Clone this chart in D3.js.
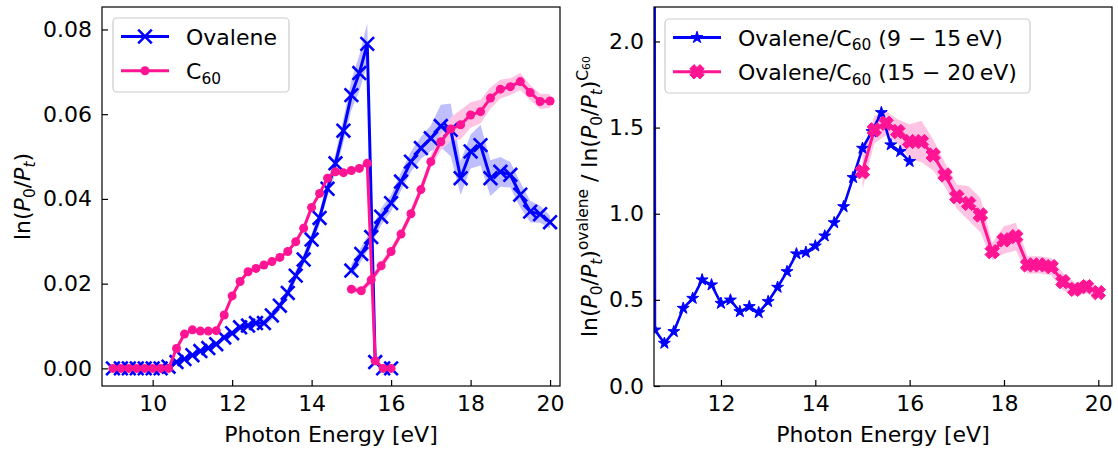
<!DOCTYPE html>
<html>
<head>
<meta charset="utf-8">
<script src="https://cdn.jsdelivr.net/npm/d3@7"></script>
<style>
body { margin: 0; background: #fff; }
text { font-family: "DejaVu Sans", sans-serif; white-space: pre; }
</style>
</head>
<body>
<svg id="fig" width="1118" height="450"></svg>
<script>
var fs = 22;
var blue = '#0000ff', pink = '#ff1493';
var blueBand = '#bfbfff', pinkBand = '#ffc4e4';

// left panel, low energy scan (9 - 16 eV)
var energyLow = [9.0, 9.2, 9.4, 9.6, 9.8, 10.0, 10.2, 10.4, 10.6, 10.8, 11.0, 11.2, 11.4, 11.6, 11.8, 12.0,
	12.2, 12.4, 12.6, 12.8, 13.0, 13.2, 13.4, 13.6, 13.8, 14.0, 14.2, 14.4, 14.6, 14.8, 15.0, 15.2, 15.4, 15.6, 15.8, 16.0];
var ovaleneLow = [0, 0, 0, 0, 0, 0, 0, 0.0004, 0.0015, 0.0022, 0.0031, 0.0041, 0.0048, 0.0057, 0.0073, 0.0083,
	0.0097, 0.0101, 0.0107, 0.0107, 0.0125, 0.0148, 0.0178, 0.0219, 0.0257, 0.0304, 0.0355, 0.0424, 0.0484, 0.0561, 0.0645, 0.0697, 0.0766, 0.0015, 0, 0];
var ovaleneLowErr = [0.0003, 0.0003, 0.0003, 0.0003, 0.0003, 0.0003, 0.0003, 0.0003, 0.0004, 0.0004, 0.0005, 0.0005, 0.0006, 0.0006, 0.0007, 0.0007,
	0.0008, 0.0008, 0.0009, 0.0009, 0.001, 0.001, 0.0011, 0.0012, 0.0013, 0.0014, 0.0016, 0.0018, 0.0022, 0.0028, 0.0035, 0.0042, 0.0048, 0.0003, 0.0003, 0.0003];
var c60Low = [0, 0, 0, 0, 0, 0, 0, 0, 0.0047, 0.0081, 0.0091, 0.0088, 0.0088, 0.0089, 0.0126, 0.0171,
	0.0205, 0.0228, 0.0236, 0.0244, 0.0252, 0.0262, 0.0276, 0.0299, 0.0331, 0.038, 0.0413, 0.0449, 0.0464, 0.0462, 0.0467, 0.0472, 0.0484, 0.0018, 0, 0];
var c60LowErr = [0.0003, 0.0003, 0.0003, 0.0003, 0.0003, 0.0003, 0.0003, 0.0003, 0.0003, 0.0003, 0.0003, 0.0003, 0.0003, 0.0003, 0.0003, 0.0003,
	0.0003, 0.0003, 0.0003, 0.0003, 0.0003, 0.0003, 0.0004, 0.0004, 0.0004, 0.0005, 0.0005, 0.0005, 0.0005, 0.0005, 0.0005, 0.0005, 0.0005, 0.0003, 0.0003, 0.0003];

// left panel, high energy scan (15 - 20 eV)
var energyHigh = [15.0, 15.25, 15.5, 15.75, 16.0, 16.25, 16.5, 16.75, 17.0, 17.25, 17.5, 17.75, 18.0, 18.25, 18.5, 18.75, 19.0, 19.25, 19.5, 19.75, 20.0];
var ovaleneHigh = [0.0231, 0.027, 0.031, 0.0358, 0.039, 0.0441, 0.0488, 0.052, 0.0543, 0.0572, 0.0563, 0.0449, 0.0512, 0.0527, 0.0449, 0.0464, 0.0457, 0.041, 0.037, 0.0364, 0.0345];
var ovaleneHighErr = [0.0015, 0.0017, 0.0018, 0.002, 0.002, 0.0022, 0.0024, 0.0026, 0.003, 0.005, 0.0062, 0.004, 0.004, 0.0048, 0.0042, 0.0035, 0.003, 0.003, 0.0025, 0.002, 0.0015];
var c60High = [0.0187, 0.0183, 0.0209, 0.0242, 0.0276, 0.0317, 0.0365, 0.0422, 0.0488, 0.0535, 0.0565, 0.0575, 0.0598, 0.0606, 0.0638, 0.0659, 0.0665, 0.0677, 0.0651, 0.063, 0.0631];
var c60HighErr = [0.0008, 0.0008, 0.0009, 0.001, 0.001, 0.001, 0.0011, 0.0012, 0.0015, 0.002, 0.0028, 0.0035, 0.003, 0.0028, 0.0025, 0.0022, 0.002, 0.002, 0.0018, 0.0018, 0.0016];

// right panel, ratios
var energyRatioLow = [10.4, 10.6, 10.8, 11.0, 11.2, 11.4, 11.6, 11.8, 12.0, 12.2, 12.4, 12.6, 12.8, 13.0, 13.2,
	13.4, 13.6, 13.8, 14.0, 14.2, 14.4, 14.6, 14.8, 15.0, 15.2, 15.4, 15.6, 15.8, 16.0];
var ratioLow = [60, 0.325, 0.248, 0.316, 0.451, 0.509, 0.616, 0.587, 0.48, 0.499, 0.432, 0.461, 0.426, 0.49, 0.573,
	0.664, 0.767, 0.776, 0.813, 0.871, 0.948, 1.041, 1.21, 1.38, 1.477, 1.587, 1.4, 1.361, 1.303];
var ratioHigh = [1.244, 1.487, 1.525, 1.477, 1.419, 1.419, 1.341, 1.225, 1.099, 1.06, 0.993, 0.78, 0.848, 0.867, 0.703, 0.703, 0.693, 0.606, 0.561, 0.577, 0.542];
var ratioHighErr = [0.1, 0.08, 0.07, 0.07, 0.1, 0.12, 0.09, 0.07, 0.07, 0.1, 0.1, 0.05, 0.08, 0.08, 0.05, 0.05, 0.05, 0.05, 0.04, 0.04, 0.03];

var xTicksLeft = [10, 12, 14, 16, 18, 20];
var yTicksLeft = [0, 0.02, 0.04, 0.06, 0.08];
var xTicksRight = [12, 14, 16, 18, 20];
var yTicksRight = [0, 0.5, 1.0, 1.5, 2.0];

var svg = d3.select('#fig');

var L = {left: 102, right: 560, top: 7, bottom: 386};
var R = {left: 654, right: 1112, top: 7, bottom: 386};

var xL = d3.scaleLinear().domain([8.725, 20.25]).range([L.left, L.right]);
var yL = d3.scaleLinear().domain([-0.00416, 0.0853]).range([L.bottom, L.top]);
var xR = d3.scaleLinear().domain([10.58, 20.29]).range([R.left, R.right]);
var yR = d3.scaleLinear().domain([0, 2.2]).range([R.bottom, R.top]);

function zip(xs, ys, es) {
	return xs.map((x, i) => ({x: x, y: ys[i], e: es ? es[i] : 0}));
}

// markers
function xMarker(s) { return 'M' + (-s) + ',' + (-s) + 'L' + s + ',' + s + 'M' + (-s) + ',' + s + 'L' + s + ',' + (-s); }
function xFilled(a, w) {
	var p = [[w, a], [w, w], [a, w], [a, -w], [w, -w], [w, -a], [-w, -a], [-w, -w], [-a, -w], [-a, w], [-w, w], [-w, a]];
	var c = Math.SQRT1_2;
	return 'M' + p.map(q => [(q[0] - q[1]) * c, (q[0] + q[1]) * c].join(',')).join('L') + 'Z';
}
var starPath = d3.symbol(d3.symbolStar, 44)();

function drawMarker(g, kind, color) {
	if (kind == 'x') {
		g.append('path').attr('d', xMarker(6.8)).attr('stroke', color).attr('stroke-width', 2.6).attr('fill', 'none');
	} else if (kind == 'o') {
		g.append('circle').attr('r', 4.5).attr('fill', color);
	} else if (kind == 'star') {
		g.append('path').attr('d', starPath).attr('fill', color).attr('stroke', color).attr('stroke-width', 1);
	} else if (kind == 'X') {
		g.append('path').attr('d', xFilled(7.2, 3)).attr('fill', color).attr('stroke', color).attr('stroke-width', 1);
	}
}

// math-like text: parts with shift (in em, positive down) and scale
function mtext(parent, parts, size) {
	var t = parent.append('text').attr('font-size', size).attr('fill', 'black');
	var cur = 0;
	parts.forEach(p => {
		var shift = (p.shift || 0) * size;
		var ts = t.append('tspan')
			.attr('font-size', size * (p.scale || 1))
			.attr('dy', shift - cur)
			.text(p.t);
		if (p.it) ts.attr('font-style', 'italic');
		cur = shift;
	});
	return t;
}
var SUB = {shift: 0.22, scale: 0.7}, SUP = {shift: -0.42, scale: 0.7}, SUPSUB = {shift: -0.3, scale: 0.5};
function part(t, o, it) { return Object.assign({t: t, it: it}, o || {}); }

function panel(P, x, y, id) {
	var g = svg.append('g');
	g.append('clipPath').attr('id', id)
		.append('rect').attr('x', P.left).attr('y', P.top)
		.attr('width', P.right - P.left).attr('height', P.bottom - P.top);
	var plot = g.append('g').attr('clip-path', 'url(#' + id + ')');
	return {g: g, plot: plot, x: x, y: y, P: P};
}

function band(p, data, color) {
	var area = d3.area().x(d => p.x(d.x)).y0(d => p.y(d.y - d.e)).y1(d => p.y(d.y + d.e));
	p.plot.append('path').attr('d', area(data)).attr('fill', color).attr('stroke', 'none');
}

function series(p, data, color, kind, lw) {
	var line = d3.line().x(d => p.x(d.x)).y(d => p.y(d.y));
	p.plot.append('path').attr('d', line(data)).attr('fill', 'none')
		.attr('stroke', color).attr('stroke-width', lw || 3).attr('stroke-linejoin', 'round');
	p.plot.append('g').selectAll('g').data(data).join('g')
		.attr('transform', d => 'translate(' + p.x(d.x) + ',' + p.y(d.y) + ')')
		.each(function () { drawMarker(d3.select(this), kind, color); });
}

function axes(p, xt, yt, yfmt) {
	var P = p.P;
	var gx = p.g.append('g').attr('transform', 'translate(0,' + P.bottom + ')')
		.call(d3.axisBottom(p.x).tickValues(xt).tickSize(-6).tickPadding(9).tickFormat(d3.format('d')));
	var gy = p.g.append('g').attr('transform', 'translate(' + P.left + ',0)')
		.call(d3.axisLeft(p.y).tickValues(yt).tickSize(-6).tickPadding(10).tickFormat(d3.format(yfmt)));
	[gx, gy].forEach(a => {
		a.select('.domain').remove();
		a.attr('font-size', null).attr('font-family', null);
		a.selectAll('.tick line').attr('stroke', 'black').attr('stroke-width', 1.2);
		a.selectAll('.tick text').attr('font-size', fs).attr('fill', 'black');
	});
	p.g.append('rect').attr('x', P.left).attr('y', P.top)
		.attr('width', P.right - P.left).attr('height', P.bottom - P.top)
		.attr('fill', 'none').attr('stroke', 'black').attr('stroke-width', 1.2);
	p.g.append('text').attr('x', (P.left + P.right) / 2).attr('y', 442)
		.attr('text-anchor', 'middle').attr('font-size', fs).text('Photon Energy [eV]');
}

function legend(p, x0, y0, w, h, entries) {
	var g = p.g.append('g');
	g.append('rect').attr('x', x0).attr('y', y0).attr('width', w).attr('height', h)
		.attr('rx', 4).attr('fill', 'white').attr('fill-opacity', 0.8)
		.attr('stroke', '#cccccc').attr('stroke-width', 1.2);
	entries.forEach((e, i) => {
		var cy = y0 + 18.5 + i * 34.3;
		g.append('line').attr('x1', x0 + 8).attr('x2', x0 + 56).attr('y1', cy).attr('y2', cy)
			.attr('stroke', e.color).attr('stroke-width', 3);
		drawMarker(g.append('g').attr('transform', 'translate(' + (x0 + 32) + ',' + cy + ')'), e.kind, e.color);
		mtext(g, e.parts, fs).attr('x', x0 + 73).attr('y', cy + 8);
	});
}

// ---------- left panel ----------
var pl = panel(L, xL, yL, 'clipL');
band(pl, zip(energyLow, ovaleneLow, ovaleneLowErr), blueBand);
band(pl, zip(energyHigh, ovaleneHigh, ovaleneHighErr), blueBand);
band(pl, zip(energyLow, c60Low, c60LowErr), pinkBand);
band(pl, zip(energyHigh, c60High, c60HighErr), pinkBand);
series(pl, zip(energyLow, ovaleneLow), blue, 'x');
series(pl, zip(energyHigh, ovaleneHigh), blue, 'x');
series(pl, zip(energyLow, c60Low), pink, 'o');
series(pl, zip(energyHigh, c60High), pink, 'o');
axes(pl, xTicksLeft, yTicksLeft, '.2f');

mtext(pl.g, [part('ln('), part('P', null, 1), part('0', SUB), part('/'), part('P', null, 1), part('t', SUB, 1), part(')')], fs)
	.attr('text-anchor', 'middle')
	.attr('transform', 'translate(30,' + (L.top + L.bottom) / 2 + ') rotate(-90)');

legend(pl, 113, 18, 176, 74, [
	{color: blue, kind: 'x', parts: [part('Ovalene')]},
	{color: pink, kind: 'o', parts: [part('C'), part('60', SUB)]}
]);

// ---------- right panel ----------
var pr = panel(R, xR, yR, 'clipR');
band(pr, zip(energyHigh, ratioHigh, ratioHighErr), pinkBand);
series(pr, zip(energyRatioLow, ratioLow), blue, 'star', 2.6);
series(pr, zip(energyHigh, ratioHigh), pink, 'X');
axes(pr, xTicksRight, yTicksRight, '.1f');

mtext(pr.g, [part('ln('), part('P', null, 1), part('0', SUB), part('/'), part('P', null, 1), part('t', SUB, 1), part(')'),
	part('ovalene', SUP), part(' / ln('), part('P', null, 1), part('0', SUB), part('/'), part('P', null, 1), part('t', SUB, 1), part(')'),
	part('C', SUP), part('60', SUPSUB)], fs)
	.attr('text-anchor', 'middle')
	.attr('transform', 'translate(597,' + (R.top + R.bottom) / 2 + ') rotate(-90)');

legend(pr, 665, 19, 365, 74, [
	{color: blue, kind: 'star', parts: [part('Ovalene/C'), part('60', SUB), part(' (9 \u2212 15\u2009eV)')]},
	{color: pink, kind: 'X', parts: [part('Ovalene/C'), part('60', SUB), part(' (15 \u2212 20\u2009eV)')]}
]);
</script>
</body>
</html>
